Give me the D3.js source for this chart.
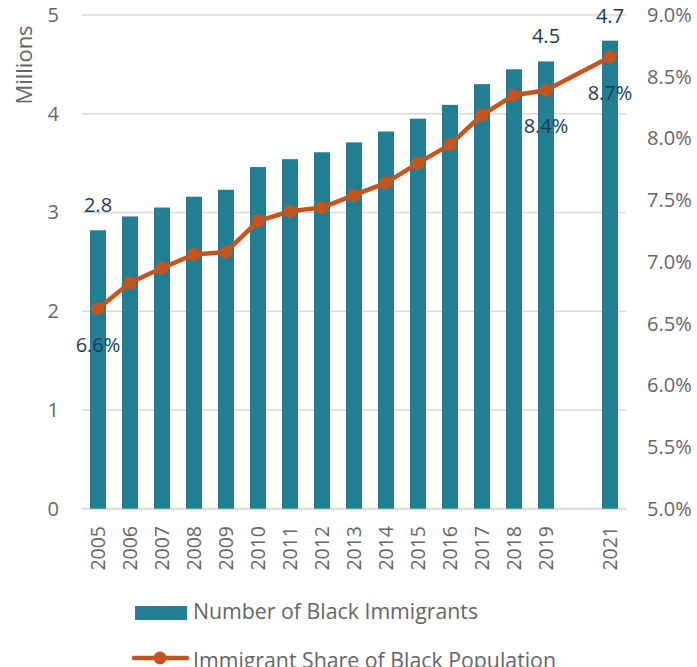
<!DOCTYPE html>
<html><head><meta charset="utf-8">
<script src="https://cdn.jsdelivr.net/npm/d3@7"></script>
<style>body{margin:0;background:#fff}svg{display:block}text{font-family:"Open Sans",sans-serif}</style>
</head><body><svg id="c" width="697" height="667"></svg>
<script>
const years = ["2005","2006","2007","2008","2009","2010","2011","2012","2013","2014","2015","2016","2017","2018","2019","2020","2021"];
const immigrants = [2.82,2.96,3.05,3.16,3.23,3.46,3.54,3.61,3.71,3.82,3.95,4.09,4.30,4.45,4.53,null,4.74];
const share = [6.62,6.83,6.95,7.06,7.08,7.33,7.41,7.44,7.54,7.64,7.80,7.95,8.19,8.35,8.39,null,8.66];
const barLabels = {"2005":"2.8","2019":"4.5","2021":"4.7"};
const shareLabels = {"2005":"6.6%","2019":"8.4%","2021":"8.7%"};
const leftTicks = [0,1,2,3,4,5];
const rightTicks = [5.0,5.5,6.0,6.5,7.0,7.5,8.0,8.5,9.0];
const xTickLabels = years.filter(y => y !== "2020");

const svg = d3.select("#c");
const x = d3.scaleBand().domain(years).range([82,626]).paddingInner(0.5).paddingOuter(0.25);
const yL = d3.scaleLinear().domain([0,5]).range([508.7,15]);
const yR = d3.scaleLinear().domain([5,9]).range([508.7,15]);
const barColor = "#227f93", lineColor = "#c5541f", labelColor = "#1c3a57", axisColor = "#666";

svg.append("g").selectAll("line").data(leftTicks).join("line")
  .attr("x1",82).attr("x2",626).attr("y1",d=>yL(d)).attr("y2",d=>yL(d))
  .attr("stroke","#d9d9d9").attr("stroke-width",d=>d===0?2:1.5);

svg.append("g").selectAll("text").data(leftTicks).join("text")
  .attr("x",59).attr("y",d=>yL(d)).attr("dy","0.35em").attr("text-anchor","end")
  .attr("font-size",20).attr("fill",axisColor).text(d=>d);
svg.append("text").attr("transform","translate(32,65) rotate(-90)").attr("text-anchor","middle")
  .attr("font-size",22).attr("fill",axisColor).text("Millions");

svg.append("g").selectAll("text").data(rightTicks).join("text")
  .attr("x",647).attr("y",d=>yR(d)).attr("dy","0.35em").attr("text-anchor","start")
  .attr("font-size",20).attr("fill",axisColor).text(d=>d.toFixed(1)+"%");

const barData = years.map((y,i)=>({year:y, v:immigrants[i], s:share[i]})).filter(d=>d.v!=null);
svg.append("g").selectAll("rect").data(barData).join("rect")
  .attr("x",d=>x(d.year)).attr("width",x.bandwidth())
  .attr("y",d=>yL(d.v)).attr("height",d=>yL(0)-yL(d.v)).attr("fill",barColor);

svg.append("g").selectAll("text").data(xTickLabels).join("text")
  .attr("transform",d=>`translate(${x(d)+x.bandwidth()/2},526) rotate(-90)`)
  .attr("text-anchor","end").attr("dy","0.35em").attr("font-size",19.5).attr("fill",axisColor).text(d=>d);

const lineData = barData.filter(d=>d.s!=null);
const line = d3.line().x(d=>x(d.year)+x.bandwidth()/2).y(d=>yR(d.s));
svg.append("path").datum(lineData).attr("d",line).attr("fill","none")
  .attr("stroke",lineColor).attr("stroke-width",4.5).attr("stroke-linejoin","round");
svg.append("g").selectAll("circle").data(lineData).join("circle")
  .attr("cx",d=>x(d.year)+x.bandwidth()/2).attr("cy",d=>yR(d.s)).attr("r",6.5).attr("fill",lineColor);

svg.append("g").selectAll("text").data(barData.filter(d=>barLabels[d.year])).join("text")
  .attr("x",d=>x(d.year)+x.bandwidth()/2).attr("y",d=>yL(d.v)-18).attr("text-anchor","middle")
  .attr("font-size",20).attr("fill",labelColor).text(d=>barLabels[d.year]);
svg.append("g").selectAll("text").data(lineData.filter(d=>shareLabels[d.year])).join("text")
  .attr("x",d=>x(d.year)+x.bandwidth()/2).attr("y",d=>yR(d.s)+43).attr("text-anchor","middle")
  .attr("font-size",20).attr("fill",labelColor).text(d=>shareLabels[d.year]);

const lg = svg.append("g");
lg.append("rect").attr("x",135).attr("y",606).attr("width",52).attr("height",14).attr("fill",barColor);
lg.append("text").attr("x",193).attr("y",619).attr("font-size",21.3).attr("fill",axisColor).text("Number of Black Immigrants");
lg.append("line").attr("x1",134).attr("x2",187).attr("y1",658).attr("y2",658).attr("stroke",lineColor).attr("stroke-width",4.5).attr("stroke-linecap","round");
lg.append("circle").attr("cx",160).attr("cy",658).attr("r",6.5).attr("fill",lineColor);
lg.append("text").attr("x",193).attr("y",668).attr("font-size",21.3).attr("fill",axisColor).text("Immigrant Share of Black Population");
</script></body></html>
